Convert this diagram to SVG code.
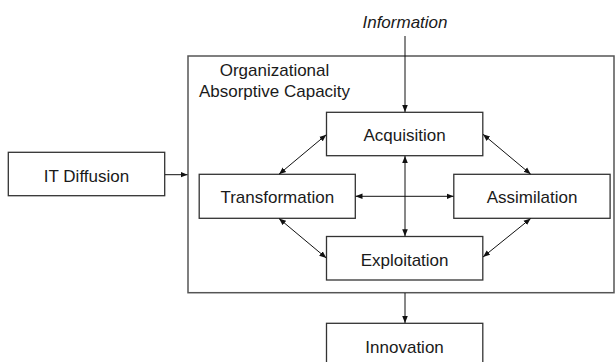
<svg xmlns="http://www.w3.org/2000/svg" width="615" height="362" viewBox="0 0 615 362">
<defs>
<style>
.box{fill:#fff;stroke:#333;stroke-width:1.3}
.outer{fill:#fff;stroke:#555;stroke-width:1.5}
.lbl{font-family:"Liberation Sans",Arial,sans-serif;font-size:17px;fill:#1a1a1a;text-anchor:middle}
.con{stroke:#111;stroke-width:1;fill:none}
</style>
<marker id="ah" viewBox="0 0 10 10" refX="10" refY="5" markerWidth="7" markerHeight="7" markerUnits="userSpaceOnUse" orient="auto-start-reverse">
<path d="M0,1 L10,5 L0,9 z" fill="#111"/>
</marker>
</defs>
<rect width="615" height="362" fill="#fff"/>
<g id="oac">
<rect class="outer" x="188" y="56" width="426" height="236.7"/>
<text class="lbl" x="274.5" y="76">Organizational</text>
<text class="lbl" x="274.5" y="96.7">Absorptive Capacity</text>
</g>
<g id="information">
<text class="lbl" x="405" y="27.7" font-style="italic">Information</text>
</g>
<g id="itdiffusion">
<rect class="box" x="8.3" y="152.3" width="156.4" height="43.4"/>
<text class="lbl" x="86.5" y="181.7">IT Diffusion</text>
</g>
<g id="acquisition">
<rect class="box" x="326.5" y="112.3" width="156.3" height="43.4"/>
<text class="lbl" x="404.6" y="141.3">Acquisition</text>
</g>
<g id="transformation">
<rect class="box" x="199.2" y="174.3" width="156.1" height="44"/>
<text class="lbl" x="277.3" y="203">Transformation</text>
</g>
<g id="assimilation">
<rect class="box" x="453.8" y="174.3" width="156.3" height="44"/>
<text class="lbl" x="532" y="203">Assimilation</text>
</g>
<g id="exploitation">
<rect class="box" x="326.5" y="236.5" width="156.3" height="43.5"/>
<text class="lbl" x="404.6" y="265.7">Exploitation</text>
</g>
<g id="innovation">
<rect class="box" x="326.5" y="323.3" width="156.3" height="45"/>
<text class="lbl" x="404.6" y="352.7">Innovation</text>
</g>
<g id="connectors">
<line class="con" x1="405" y1="36" x2="405" y2="112" marker-end="url(#ah)"/>
<line class="con" x1="165" y1="174.7" x2="187.5" y2="174.7" marker-end="url(#ah)"/>
<line class="con" x1="405" y1="293" x2="405" y2="323" marker-end="url(#ah)"/>
<line class="con" x1="405" y1="156" x2="405" y2="236.3" marker-start="url(#ah)" marker-end="url(#ah)"/>
<line class="con" x1="355.5" y1="196.3" x2="453.6" y2="196.3" marker-start="url(#ah)" marker-end="url(#ah)"/>
<line class="con" x1="326.3" y1="134.7" x2="279" y2="174.2" marker-start="url(#ah)" marker-end="url(#ah)"/>
<line class="con" x1="279" y1="218.5" x2="326.3" y2="258" marker-start="url(#ah)" marker-end="url(#ah)"/>
<line class="con" x1="483" y1="134.3" x2="530.7" y2="174.2" marker-start="url(#ah)" marker-end="url(#ah)"/>
<line class="con" x1="530.7" y1="218.5" x2="483" y2="257" marker-start="url(#ah)" marker-end="url(#ah)"/>
</g>
</svg>
